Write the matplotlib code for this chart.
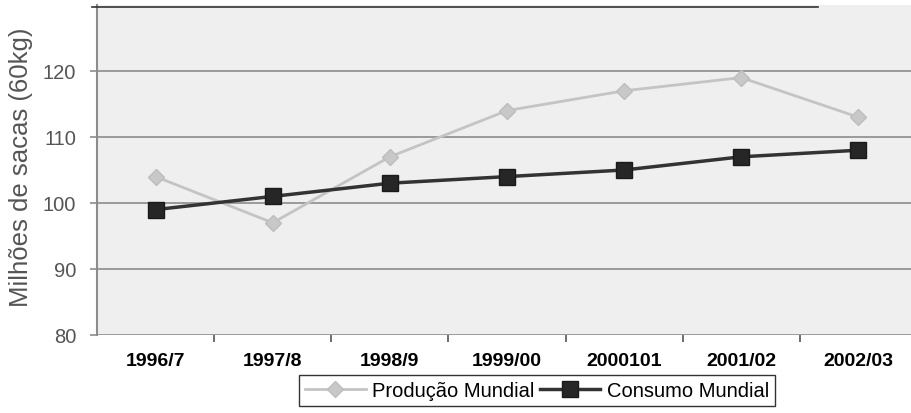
import matplotlib
matplotlib.use("Agg")
import matplotlib.pyplot as plt
from matplotlib.lines import Line2D

# -----------------------------
# DATA
# -----------------------------
safras   = ["1996/7", "1997/8", "1998/9", "1999/00", "2000101", "2001/02", "2002/03"]
producao = [104, 97, 107, 114, 117, 119, 113]
consumo  = [99, 101, 103, 104, 105, 107, 108]
y_ticks  = [80, 90, 100, 110, 120]

plt.rcParams["font.family"] = ["Liberation Sans", "DejaVu Sans"]

fig = plt.figure(figsize=(9.11, 4.14), dpi=100)
ax = fig.add_axes([97 / 911, 1 - 336 / 414, 820 / 911, 330 / 414])
ax.set_facecolor("#efefef")

x = list(range(len(safras)))

ax.plot(x, producao, color="#c4c4c4", linewidth=2, marker="D",
        markersize=8, markerfacecolor="#c8c8c8", markeredgecolor="#bdbdbd",
        label="Produção Mundial", zorder=3)
ax.plot(x, consumo, color="#333333", linewidth=2.5, marker="s",
        markersize=11, markerfacecolor="#262626", markeredgecolor="#1a1a1a",
        label="Consumo Mundial", zorder=4)

ax.set_xlim(-0.5, len(safras) - 0.5)
ax.set_ylim(80, 130)
ax.set_yticks(y_ticks)
ax.set_yticklabels([str(v) for v in y_ticks], fontsize=14.5, color="#555555")
ax.yaxis.grid(True, color="#8c8c8c", linewidth=1.2)
ax.set_axisbelow(True)

# category boundaries get the tick marks, labels sit at the centres
ax.set_xticks([i + 0.5 for i in x[:-1]], minor=False)
ax.set_xticklabels([])
ax.set_xticks(x, minor=True)
ax.set_xticklabels(safras, minor=True, fontsize=14, fontweight="bold", color="black")
ax.tick_params(axis="x", which="minor", length=0, pad=12)
ax.tick_params(axis="x", which="major", length=5, color="#555555", width=1.2)
ax.tick_params(axis="y", length=5, color="#8c8c8c", width=1.2, pad=10)

for side in ["top", "right", "bottom"]:
    ax.spines[side].set_visible(False)
ax.spines["left"].set_color("#8c8c8c")
ax.spines["left"].set_linewidth(1.5)

ax.set_ylabel("Milhões de sacas (60kg)", fontsize=18.5, color="#555555")
ax.yaxis.set_label_coords(-0.078, 0.51)

# top border line from the scan
fig.add_artist(Line2D([92 / 911, 818 / 911], [1 - 8 / 414, 1 - 8 / 414],
                      color="#333333", linewidth=1.2))

leg = fig.legend(loc="upper center", bbox_to_anchor=(537 / 911, 1 - 376 / 414),
                 ncol=2, fontsize=14.5, frameon=True, fancybox=False,
                 handlelength=3.0, handletextpad=0.3, columnspacing=0.3,
                 borderpad=0.3, borderaxespad=0)
leg.get_frame().set_edgecolor("black")
leg.get_frame().set_linewidth(1.0)

fig.savefig("out.png", dpi=100)
